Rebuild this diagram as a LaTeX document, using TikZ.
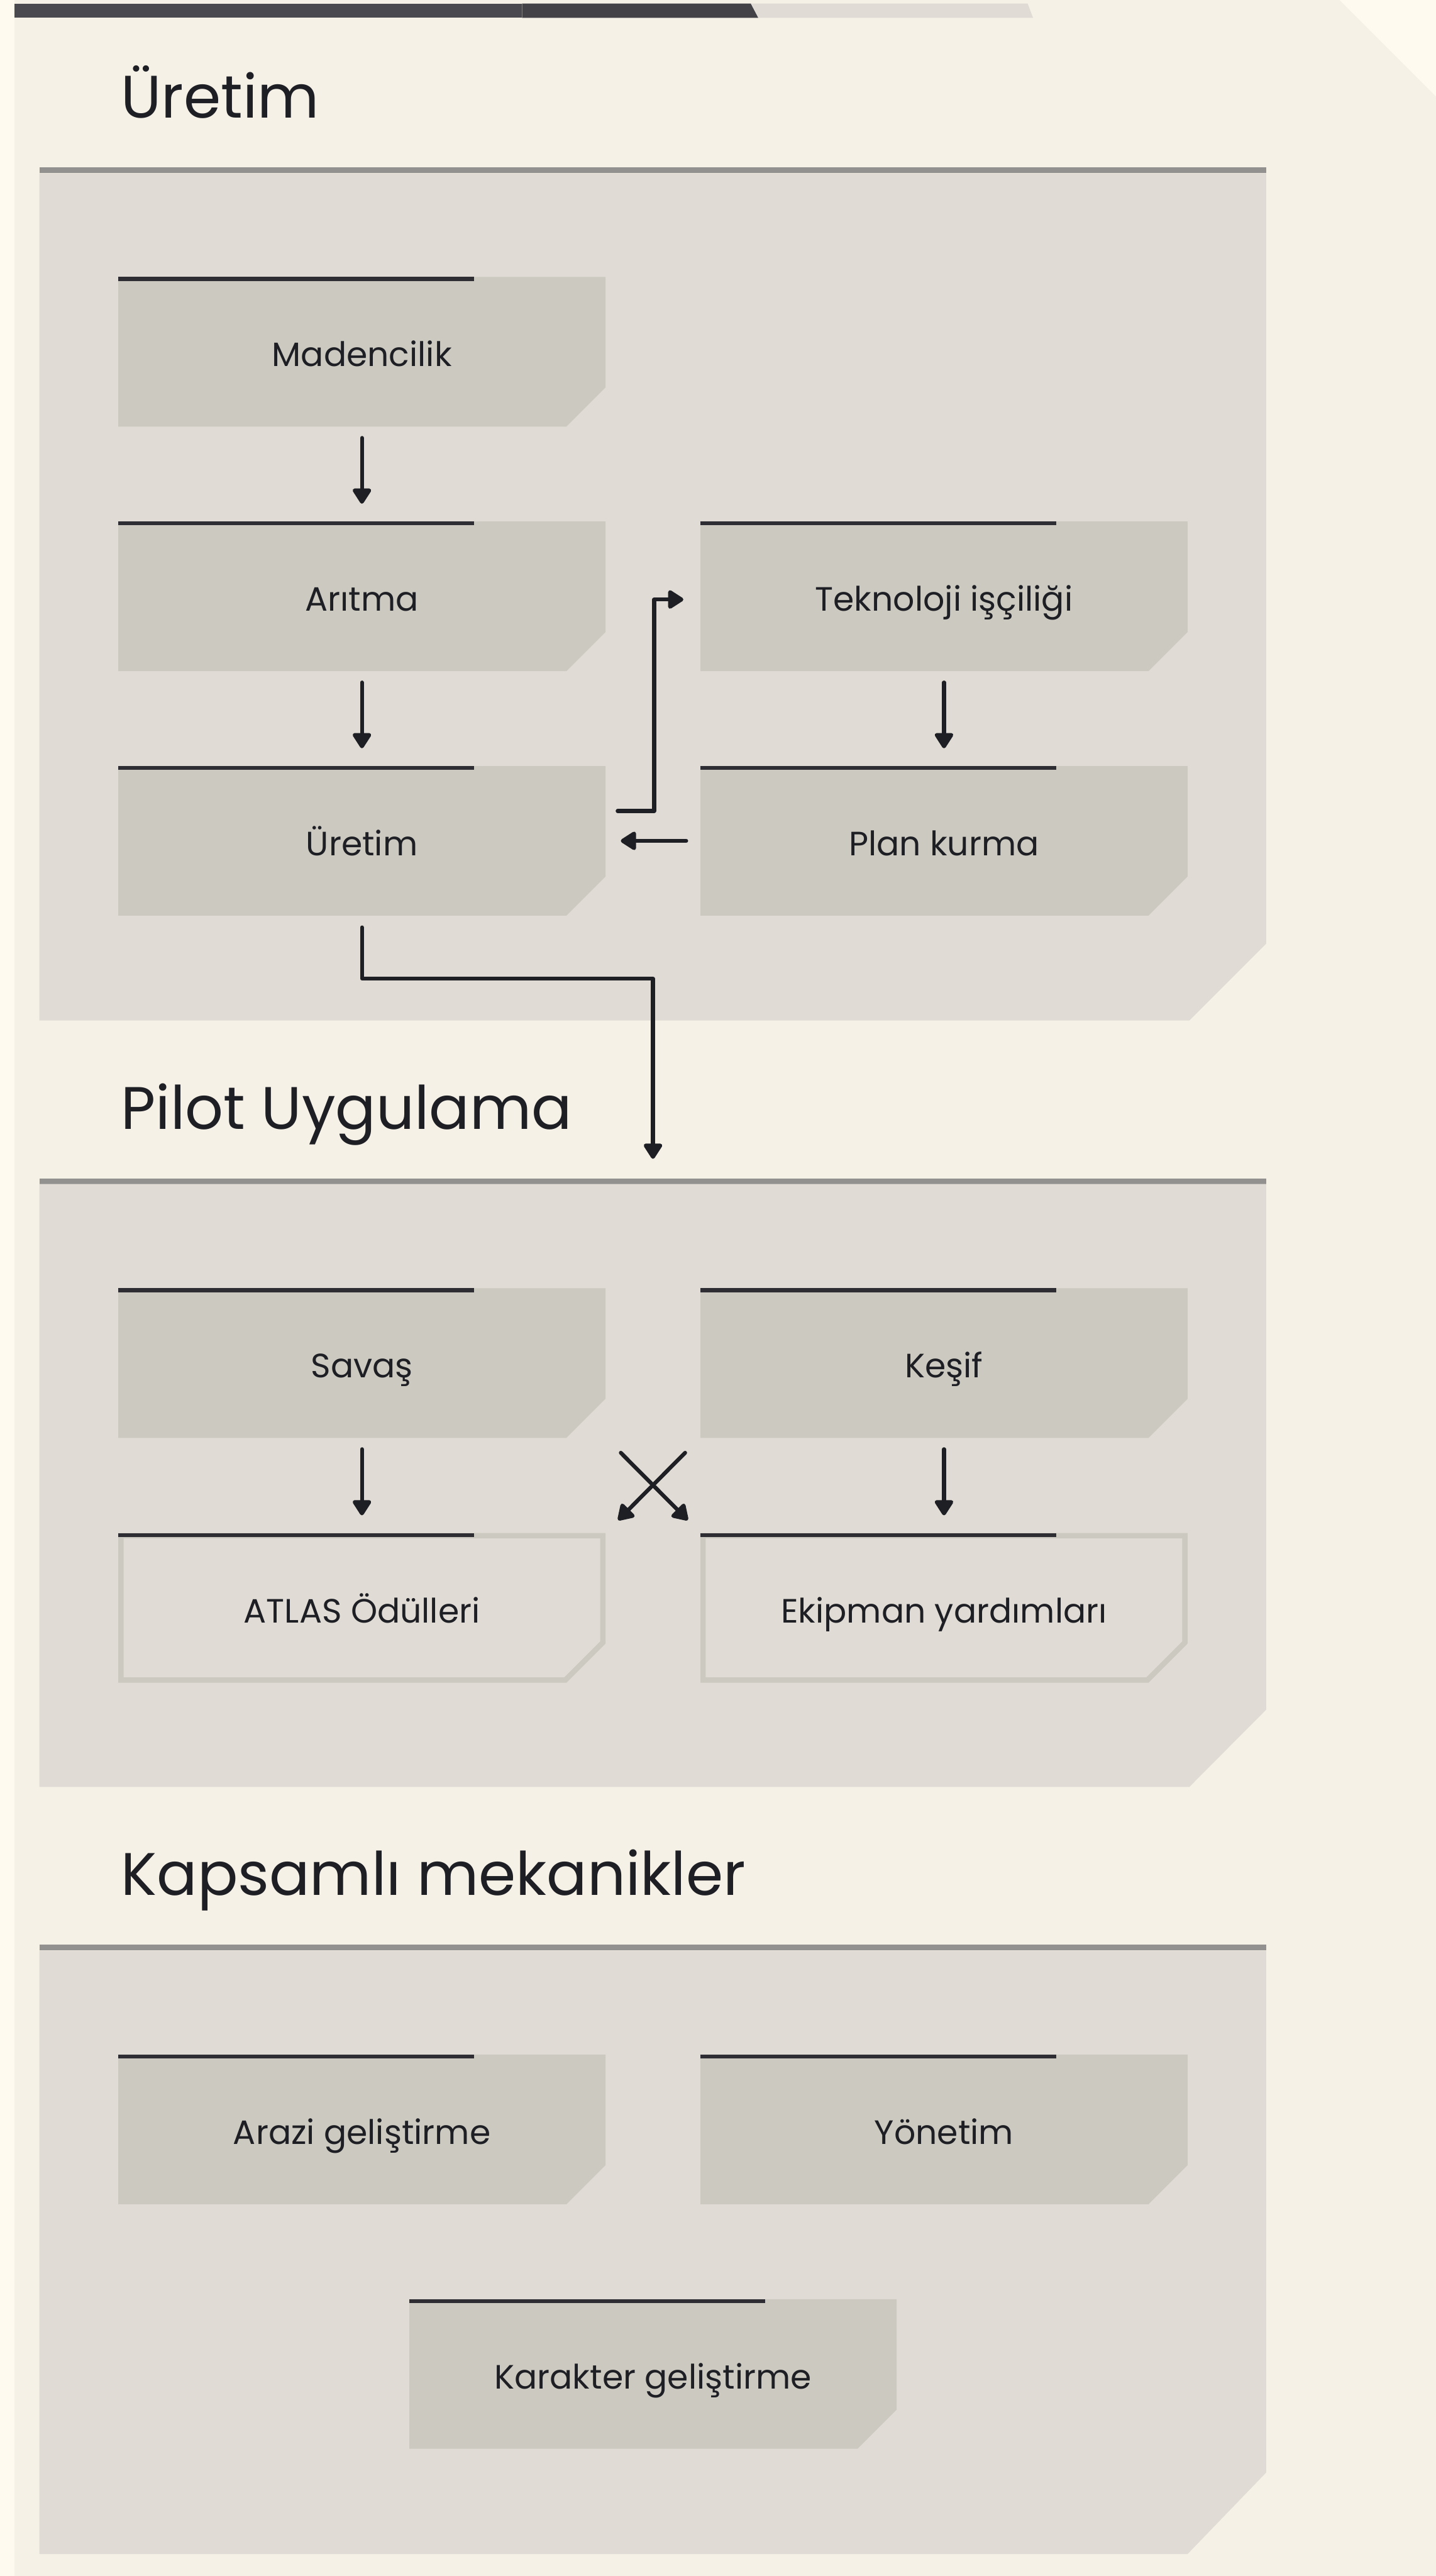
\documentclass[tikz,border=0pt]{standalone}
\usepackage{fontspec}
\setmainfont{Poppins}
\usepackage{xcolor}
\usetikzlibrary{
    arrows.meta,
    calc,
    positioning
}
\definecolor{outercol}{HTML}{FEFAEF}
\definecolor{pagecol}{HTML}{F5F1E7}
\definecolor{panelcol}{HTML}{E0DCD5}
\definecolor{rulecol}{HTML}{929190}
\definecolor{cardcol}{HTML}{CCC9C1}
\definecolor{barcol}{HTML}{2E2D33}
\definecolor{inkcol}{HTML}{1E1F24}
\definecolor{stripone}{HTML}{4A494F}
\definecolor{striptwo}{HTML}{434247}
\tikzset{card/.style={minimum width=13.71cm, minimum height=4.21cm, inner sep=0pt, outer sep=0pt,
    text height=0.83cm, text depth=0pt,
    fill=panelcol, text=inkcol, font=\fontsize{27pt}{32pt}\selectfont,
    path picture={
        \fill[cardcol] (path picture bounding box.north west) -- (path picture bounding box.north east)
            -- ([yshift=1.1cm]path picture bounding box.south east) -- ([xshift=-1.1cm]path picture bounding box.south east)
            -- (path picture bounding box.south west) -- cycle;
        \fill[barcol] (path picture bounding box.north west) rectangle ([xshift=10.01cm, yshift=-0.11cm]path picture bounding box.north west);
    }}}
\tikzset{opencard/.style={minimum width=13.71cm, minimum height=4.21cm, inner sep=0pt, outer sep=0pt,
    text height=0.83cm, text depth=0pt,
    fill=panelcol, text=inkcol, font=\fontsize{27pt}{32pt}\selectfont,
    path picture={
        \clip (path picture bounding box.north west) -- (path picture bounding box.north east)
            -- ([yshift=1.1cm]path picture bounding box.south east) -- ([xshift=-1.1cm]path picture bounding box.south east)
            -- (path picture bounding box.south west) -- cycle;
        \draw[cardcol, line width=0.3cm] (path picture bounding box.north west) -- (path picture bounding box.north east)
            -- ([yshift=1.1cm]path picture bounding box.south east) -- ([xshift=-1.1cm]path picture bounding box.south east)
            -- (path picture bounding box.south west) -- cycle;
        \fill[barcol] (path picture bounding box.north west) rectangle ([xshift=10.01cm, yshift=-0.11cm]path picture bounding box.north west);
    }}}
\tikzset{heading/.style={anchor=base west, inner sep=0pt, text=inkcol, font=\fontsize{48pt}{58pt}\selectfont}}
\tikzset{flow/.style={draw=inkcol, line width=0.11cm, line cap=round, line join=round,
    -{Triangle[width=0.58cm, length=0.48cm, round, sep=0.12cm]}}}

\begin{document}
\begin{tikzpicture}[x=1cm, y=-1cm]
    \useasboundingbox (0, 0) rectangle (40.41, 72.47);

    % page and top strip
    \fill[outercol] (0, 0) rectangle (40.41, 72.47);
    \fill[pagecol] (0.41, 0) -- (37.69, 0) -- (40.41, 2.72) -- (40.41, 72.47) -- (0.41, 72.47) -- cycle;
    \fill[stripone] (0.41, 0.10) rectangle (14.69, 0.50);
    \fill[striptwo] (14.69, 0.10) -- (21.13, 0.10) -- (21.34, 0.50) -- (14.69, 0.50) -- cycle;
    \fill[panelcol] (21.13, 0.10) -- (28.92, 0.10) -- (29.07, 0.50) -- (21.34, 0.50) -- cycle;

    % panels
    \fill[rulecol] (1.11, 4.70) rectangle (35.63, 4.87);
    \fill[panelcol] (1.11, 4.87) -- (35.63, 4.87) -- (35.63, 26.55) -- (33.47, 28.71) -- (1.11, 28.71) -- cycle;

    \fill[rulecol] (1.11, 33.15) rectangle (35.63, 33.31);
    \fill[panelcol] (1.11, 33.31) -- (35.63, 33.31) -- (35.63, 48.10) -- (33.47, 50.27) -- (1.11, 50.27) -- cycle;

    \fill[rulecol] (1.11, 54.71) rectangle (35.63, 54.87);
    \fill[panelcol] (1.11, 54.87) -- (35.63, 54.87) -- (35.63, 69.56) -- (33.42, 71.85) -- (1.11, 71.85) -- cycle;

    \node[heading] (tprod) at (3.40, 3.31) {Üretim};
    \node[heading] (tpilot) at (3.40, 31.76) {Pilot Uygulama};
    \node[heading] (tcore) at (3.40, 53.31) {Kapsamlı mekanikler};
    \coordinate (pilotin) at (18.375, 33.15);

    % cards
    \node[card] (mad) at (10.185, 9.895) {Madencilik};
    \node[card] (ari) at (10.185, 16.775) {Arıtma};
    \node[card] (ure) at (10.185, 23.655) {Üretim};
    \node[card] (tek) at (26.565, 16.775) {Teknoloji işçiliği};
    \node[card] (plan) at (26.565, 23.655) {Plan kurma};

    \node[card] (sav) at (10.185, 38.345) {Savaş};
    \node[card] (kes) at (26.565, 38.345) {Keşif};
    \node[opencard] (atl) at (10.185, 45.235) {ATLAS Ödülleri};
    \node[opencard] (ekp) at (26.565, 45.235) {Ekipman yardımları};

    \node[card] (arz) at (10.185, 59.905) {Arazi geliştirme};
    \node[card] (yon) at (26.565, 59.905) {Yönetim};
    \node[card] (kar) at (18.375, 66.785) {Karakter geliştirme};

    % connectors
    \draw[flow, shorten <=0.32cm, shorten >=0.38cm] (mad) -- (ari);
    \draw[flow, shorten <=0.32cm, shorten >=0.38cm] (ari) -- (ure);
    \draw[flow, shorten <=0.32cm, shorten >=0.38cm] (tek) -- (plan);
    \draw[flow] ([xshift=-0.40cm]plan.west) -- ([xshift=0.31cm]ure.east);
    \draw[flow] ([xshift=0.34cm, yshift=0.84cm]ure.east) -- ++(1.03, 0) |- ([xshift=-0.36cm, yshift=-0.09cm]tek.west);
    \draw[flow] ([yshift=-0.33cm]ure.south) -- ++(0, 1.44) -| ([yshift=0.43cm]pilotin);

    \draw[flow, shorten <=0.32cm, shorten >=0.38cm] (sav) -- (atl);
    \draw[flow, shorten <=0.32cm, shorten >=0.38cm] (kes) -- (ekp);
    \draw[flow] ([xshift=0.43cm, yshift=-0.42cm]sav.south east) -- ([xshift=-0.27cm, yshift=0.28cm]ekp.north west);
    \draw[flow] ([xshift=-0.43cm, yshift=-0.42cm]kes.south west) -- ([xshift=0.27cm, yshift=0.28cm]atl.north east);
\end{tikzpicture}
\end{document}
